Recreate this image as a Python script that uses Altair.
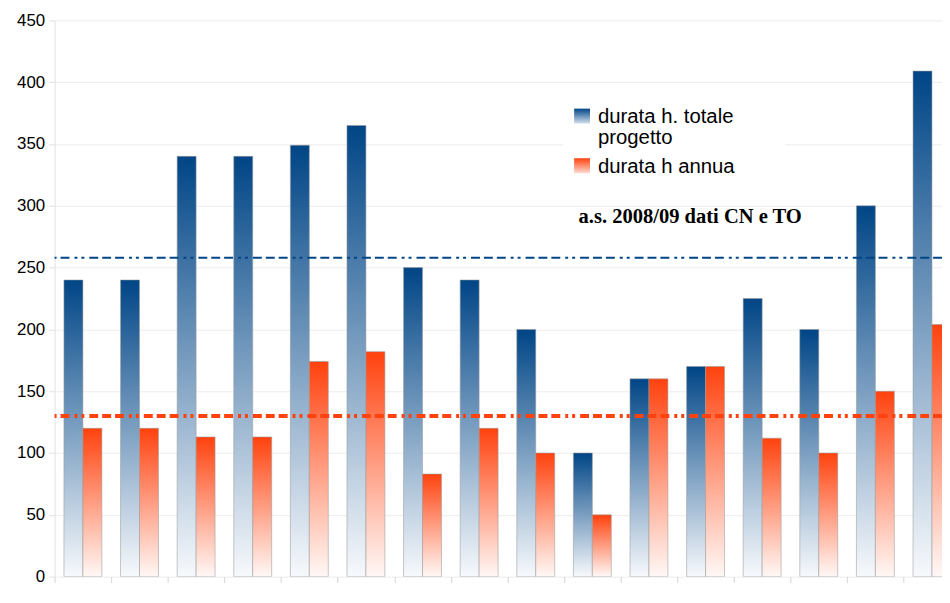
import altair as alt
import pandas as pd

# ---- data ----
groups = list(range(16))
totale = [240, 240, 340, 340, 349, 365, 250, 240, 200, 100, 160, 170, 225, 200, 300, 409]
annua = [120, 120, 113, 113, 174, 182, 83, 120, 100, 50, 160, 170, 112, 100, 150, 204]
media_totale = [258]
media_annua = [130]
y_ticks = [0, 50, 100, 150, 200, 250, 300, 350, 400, 450]
legend_labels = ["durata h. totale", "progetto", "durata h annua"]
annotation = ["a.s. 2008/09 dati CN e TO"]

df = pd.DataFrame({"g": groups, "totale": totale, "annua": annua})

W, H = 895, 561
BLUE = "#004586"
ORANGE = "#ff420e"

xscale = alt.Scale(domain=[0, 15.677], nice=False, zero=False)
yscale = alt.Scale(domain=[0, 450], nice=False)


def grad(top, bottom):
    return alt.Gradient(
        gradient="linear",
        stops=[alt.GradientStop(color=top, offset=0),
               alt.GradientStop(color=bottom, offset=1)],
        x1=0, x2=0, y1=0, y2=1,
    )


blue_grad = grad(BLUE, "#f7f9fc")
orange_grad = grad(ORANGE, "#fff8f6")

xaxis = alt.Axis(values=groups, labels=False, title=None, grid=False, domain=False,
                 ticks=True, tickColor="#d4d4d4", tickSize=6)
yaxis = alt.Axis(values=y_ticks, title=None, labelFontSize=17, labelFont="Liberation Sans",
                 labelColor="black", grid=True, gridColor="#ececec", domain=True,
                 domainColor="#e2e2e2", tickColor="#e2e2e2", tickSize=6, labelPadding=4)

base = alt.Chart(df)

blue_bars = base.transform_calculate(
    x0="datum.g + 0.165", x1="datum.g + 0.5"
).mark_bar(fill=blue_grad, stroke="#9a9a9a", strokeOpacity=0.55, strokeWidth=1, clip=True).encode(
    x=alt.X("x0:Q", scale=xscale, axis=xaxis),
    x2="x1:Q",
    y=alt.Y("totale:Q", scale=yscale, axis=yaxis),
    y2=alt.datum(0),
)

orange_bars = base.transform_calculate(
    x0="datum.g + 0.5", x1="datum.g + 0.835"
).mark_bar(fill=orange_grad, stroke="#9a9a9a", strokeOpacity=0.55, strokeWidth=1, clip=True).encode(
    x=alt.X("x0:Q", scale=xscale, axis=xaxis),
    x2="x1:Q",
    y=alt.Y("annua:Q", scale=yscale, axis=yaxis),
    y2=alt.datum(0),
)

dash = [9, 4, 9, 4, 9, 5, 3, 4, 3, 5]

rule_blue = alt.Chart(pd.DataFrame({"m": media_totale})).mark_rule(
    color=BLUE, strokeWidth=2, strokeDash=dash
).encode(y=alt.Y("m:Q", scale=yscale, axis=yaxis))

rule_orange = alt.Chart(pd.DataFrame({"m": media_annua})).mark_rule(
    color=ORANGE, strokeWidth=4, strokeDash=dash
).encode(y=alt.Y("m:Q", scale=yscale, axis=yaxis))

one = pd.DataFrame({"a": [0]})

legend_bg = alt.Chart(one).mark_rect(fill="white").encode(
    x=alt.value(513), x2=alt.value(737), y=alt.value(72), y2=alt.value(168)
)
sym_blue = alt.Chart(one).mark_rect(fill=grad(BLUE, "#d3dfec")).encode(
    x=alt.value(524), x2=alt.value(540), y=alt.value(89), y2=alt.value(104)
)
sym_orange = alt.Chart(one).mark_rect(fill=grad(ORANGE, "#ffd9cf")).encode(
    x=alt.value(524), x2=alt.value(540), y=alt.value(139), y2=alt.value(154)
)


def label(text, y):
    return alt.Chart(pd.DataFrame({"t": [text]})).mark_text(
        align="left", baseline="middle", fontSize=20.5, font="Liberation Sans", color="black"
    ).encode(x=alt.value(548), y=alt.value(y), text="t:N")


lab1 = label(legend_labels[0], 97)
lab2 = label(legend_labels[1], 119)
lab3 = label(legend_labels[2], 148)

note = alt.Chart(pd.DataFrame({"t": annotation})).mark_text(
    align="center", baseline="alphabetic", fontSize=20.7, font="Liberation Serif",
    fontWeight="bold", color="black"
).encode(x=alt.value(641), y=alt.value(204), text="t:N")

chart = alt.layer(
    blue_bars, orange_bars, rule_blue, rule_orange,
    legend_bg, sym_blue, sym_orange, lab1, lab2, lab3, note
).properties(
    width=W, height=H,
    autosize=alt.AutoSizeParams(type="none"),
    padding={"left": 47, "top": 10, "right": 0, "bottom": 15},
    background="white",
).configure_view(strokeWidth=0)

chart.save("out.html", embed_options={"renderer": "svg", "actions": False})
